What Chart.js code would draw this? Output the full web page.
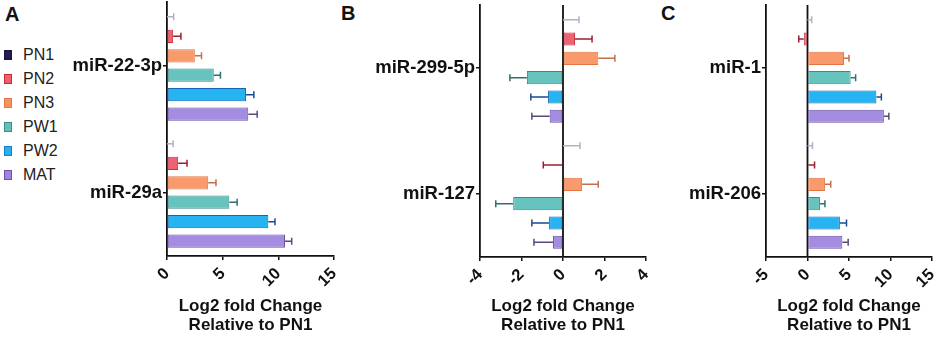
<!DOCTYPE html>
<html>
<head>
<meta charset="utf-8">
<script src="https://cdn.jsdelivr.net/npm/chart.js@4.4.1/dist/chart.umd.min.js"></script>
<style>
  html, body { margin:0; padding:0; background:#fff; }
  body { width:941px; height:342px; position:relative; overflow:hidden; font-family:"Liberation Sans", Arial, sans-serif; }
  .panel { position:absolute; top:0; height:342px; }
  .letter { position:absolute; font-weight:bold; font-size:20px; color:#111; line-height:1; }
  .leg { position:absolute; left:0; font-size:16px; color:#222; line-height:1; }
  .leg span.sw { position:absolute; left:4px; width:8px; height:10px; top:-5px; box-sizing:border-box; border:1px solid; }
  .leg span.tx { position:absolute; left:23px; top:-8px; white-space:nowrap; }
</style>
</head>
<body>
<div class="letter" style="left:5px;top:4px;">A</div>
<div class="letter" style="left:341px;top:3px;">B</div>
<div class="letter" style="left:661px;top:3px;">C</div>
<div id="legend"></div>
<div class="panel" style="left:62px;width:283px;"><canvas id="cA"></canvas></div>
<div class="panel" style="left:350px;width:300px;"><canvas id="cB"></canvas></div>
<div class="panel" style="left:655px;width:286px;"><canvas id="cC"></canvas></div>
<script>
// ---- data ----
const seriesNames = ['PN1', 'PN2', 'PN3', 'PW1', 'PW2', 'MAT'];

const categoriesA = ['miR-22-3p', 'miR-29a'];
const miR22_3p = [0, 0.55, 2.5, 4.2, 7.1, 7.3];
const miR22_3p_err = [0.6, 0.7, 0.6, 0.6, 0.7, 0.8];
const miR29a = [0, 1.0, 3.7, 5.6, 9.1, 10.6];
const miR29a_err = [0.55, 0.8, 0.7, 0.7, 0.6, 0.6];
const ticksA = [0, 5, 10, 15];

const categoriesB = ['miR-299-5p', 'miR-127'];
const miR299_5p = [0, 0.58, 1.7, -1.74, -0.72, -0.64];
const miR299_5p_err = [0.77, 0.82, 0.8, 0.82, 0.83, 0.86];
const miR127 = [0, -0.05, 0.92, -2.4, -0.67, -0.48];
const miR127_err = [0.82, 0.9, 0.78, 0.84, 0.83, 0.92];
const ticksB = [-4, -2, 0, 2, 4];

const categoriesC = ['miR-1', 'miR-206'];
const miR1 = [0, -0.45, 4.4, 5.2, 8.3, 9.2];
const miR1_err = [0.5, 0.6, 0.6, 0.6, 0.6, 0.6];
const miR206 = [0, 0.1, 2.1, 1.5, 3.9, 4.2];
const miR206_err = [0.6, 0.75, 0.7, 0.6, 0.8, 0.7];
const ticksC = [-5, 0, 5, 10, 15];

const axisTitle = ['Log2 fold Change', 'Relative to PN1'];

// ---- styles ----
const fills   = ['#2a1d55', '#ee6272', '#f89a6c', '#66c3bd', '#25b3f2', '#a48de0'];
const borders = ['#2a1d55', '#c9313f', '#e37545', '#3a8c88', '#1466b0', '#6a4fa8'];
const errCols = ['#b4b0c8', '#9c1f30', '#c0704c', '#2f6f6c', '#1a4a94', '#5a4a7a'];
const legendFills = ['#251a4f', '#ef5f70', '#f7925f', '#63bfb9', '#27aff0', '#9f86da'];
const legendBorders = ['#1a1238', '#c8283a', '#e47a4a', '#3a8f89', '#1580c8', '#6a54a8'];
const FONT = '"Liberation Sans", Arial, sans-serif';

// legend (HTML text)
const legEl = document.getElementById('legend');
const legRows = [55, 79, 103, 127, 151, 175];
seriesNames.forEach((n, i) => {
  const d = document.createElement('div');
  d.className = 'leg';
  d.style.top = legRows[i] + 'px';
  d.innerHTML = '<span class="sw" style="background:' + legendFills[i] + ';border-color:' + legendBorders[i] + '"></span><span class="tx">' + n + '</span>';
  legEl.appendChild(d);
});

const errorBars = {
  id: 'errorBars',
  afterDatasetsDraw(chart) {
    const ctx = chart.ctx, xs = chart.scales.x;
    const errs = chart.options.plugins.errorBars.errs;
    ctx.save();
    chart.data.datasets.forEach((ds, i) => {
      const meta = chart.getDatasetMeta(i);
      meta.data.forEach((el, j) => {
        const v = ds.data[j];
        const sd = errs[i][j];
        const dir = v < 0 ? -1 : 1;
        const x0 = xs.getPixelForValue(v);
        const x1 = xs.getPixelForValue(v + dir * sd);
        ctx.strokeStyle = errCols[i];
        ctx.lineWidth = 1.5;
        ctx.beginPath();
        ctx.moveTo(x0, el.y); ctx.lineTo(x1, el.y);
        ctx.moveTo(x1, el.y - 3.5); ctx.lineTo(x1, el.y + 3.5);
        ctx.stroke();
      });
    });
    ctx.restore();
  }
};

const zeroLine = {
  id: 'zeroLine',
  beforeDatasetsDraw(chart) {
    if (!chart.options.plugins.zeroLine.show) return;
    const ctx = chart.ctx, xs = chart.scales.x, a = chart.chartArea;
    const x = xs.getPixelForValue(0);
    ctx.save();
    ctx.strokeStyle = '#111';
    ctx.lineWidth = 1.8;
    ctx.beginPath(); ctx.moveTo(x, a.top); ctx.lineTo(x, a.bottom); ctx.stroke();
    ctx.restore();
  }
};

function build(canvasId, cats, g1, g1e, g2, g2e, ticks, yWidth, padTop, padRight, zero, bottomY) {
  const datasets = seriesNames.map((n, i) => ({
    label: n,
    data: [g1[i], g2[i]],
    backgroundColor: fills[i],
    borderColor: borders[i],
    borderWidth: i === 0 ? 0 : 1,
    borderSkipped: false,
    categoryPercentage: 0.92,
    barPercentage: 0.68
  }));
  const errs = seriesNames.map((n, i) => [g1e[i], g2e[i]]);
  const xHeight = 342 - bottomY;
  new Chart(document.getElementById(canvasId), {
    type: 'bar',
    data: { labels: cats, datasets },
    options: {
      indexAxis: 'y',
      responsive: true,
      maintainAspectRatio: false,
      animation: false,
      layout: { padding: { top: padTop, right: padRight, left: 0, bottom: 0 } },
      plugins: {
        legend: { display: false },
        tooltip: { enabled: false },
        errorBars: { errs },
        zeroLine: { show: zero }
      },
      scales: {
        y: {
          border: { display: true, color: '#111', width: 1.8 },
          grid: { display: true, offset: false, drawOnChartArea: false, drawTicks: true, tickLength: 4, color: '#111', lineWidth: 1.5 },
          ticks: { color: '#111', padding: 1, font: { family: FONT, size: 18.5, weight: 'bold' } },
          afterFit(s) { s.width = yWidth; s.paddingTop = 0; s.paddingBottom = 0; }
        },
        x: {
          type: 'linear',
          min: ticks[0], max: ticks[ticks.length - 1],
          afterBuildTicks(s) { s.ticks = ticks.map(v => ({ value: v })); },
          border: { display: true, color: '#111', width: 1.8 },
          grid: { display: true, drawOnChartArea: false, drawTicks: true, tickLength: 4, color: '#111', lineWidth: 1.5 },
          ticks: { color: '#111', minRotation: 45, maxRotation: 45, padding: 4, font: { family: FONT, size: 16.5, weight: 'bold' } },
          title: { display: true, text: axisTitle, color: '#111', padding: { top: 0, bottom: 7 }, font: { family: FONT, size: 17, weight: 'bold', lineHeight: 1.12 } },
          afterFit(s) { s.height = xHeight; s.paddingLeft = 0; s.paddingRight = 0; }
        }
      }
    },
    plugins: [zeroLine, errorBars]
  });
}

build('cA', categoriesA, miR22_3p, miR22_3p_err, miR29a, miR29a_err, ticksA, 105, 2, 11, false, 256);
build('cB', categoriesB, miR299_5p, miR299_5p_err, miR127, miR127_err, ticksB, 130, 5, 4, true, 257);
build('cC', categoriesC, miR1, miR1_err, miR206, miR206_err, ticksC, 111, 5, 9, true, 257);
</script>
</body>
</html>
